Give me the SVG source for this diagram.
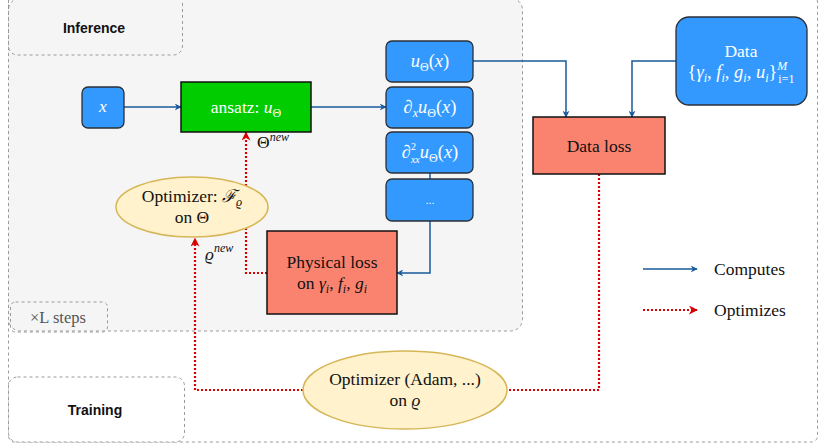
<svg xmlns="http://www.w3.org/2000/svg" width="820" height="446" viewBox="0 0 820 446">
<style>
.cont{fill:none;stroke:#9a9a9a;stroke-width:1;stroke-dasharray:3 3}
.blue{fill:#3399ff;stroke:#2b2f36;stroke-width:1.3}
.salmon{fill:#fa8370;stroke:#111;stroke-width:1.5}
.green{fill:#00cc00;stroke:#111;stroke-width:1.5}
.ell{fill:#fff2cc;stroke:#d6b656;stroke-width:1.5}
.m{font-family:"Liberation Serif","DejaVu Serif",serif;font-size:17.5px;text-anchor:middle}
.w{fill:#ffffff}
.k{fill:#111111}
.i{font-style:italic}
.s{font-size:12px}
.t{font-size:10px}
.b{font-family:"Liberation Sans",Arial,sans-serif;font-weight:bold;font-size:14px;text-anchor:middle;fill:#111}
.cl{fill:none;stroke:#195a9c;stroke-width:1.5}
.ol{fill:none;stroke:#d90000;stroke-width:2.2;stroke-dasharray:2 2}
</style>
<defs>
<marker id="ab" viewBox="0 0 10 10" refX="9" refY="5" markerWidth="7" markerHeight="7" orient="auto" markerUnits="userSpaceOnUse">
<path d="M0,0 L10,5 L0,10 L3,5 Z" fill="#195a9c"/>
</marker>
<marker id="ar" viewBox="0 0 10 10" refX="9" refY="5" markerWidth="9" markerHeight="9" orient="auto" markerUnits="userSpaceOnUse">
<path d="M0,0 L10,5 L0,10 L3,5 Z" fill="#d90000"/>
</marker>
</defs>

<g id="containers">
<rect x="8.5" y="-4" width="809" height="446" rx="6" class="cont"/>
<rect x="8.5" y="-2" width="514" height="333" rx="12" fill="#f5f5f5" stroke="#9a9a9a" stroke-width="1" stroke-dasharray="3 3"/>
<rect x="8.5" y="-10" width="174" height="65" rx="9" class="cont"/>
<text x="94" y="33" class="b">Inference</text>
<rect x="10.5" y="302" width="97" height="30" rx="5" class="cont"/>
<text x="58" y="323" class="m" style="font-size:16.5px;fill:#555">×L steps</text>
<rect x="8.5" y="377" width="176" height="65" rx="9" fill="#ffffff" stroke="#9a9a9a" stroke-width="1" stroke-dasharray="3 3"/>
<text x="95" y="415" class="b">Training</text>
</g>

<g id="connectors">
<path d="M124,107 H181" class="cl" marker-end="url(#ab)"/>
<path d="M311,107 H386" class="cl" marker-end="url(#ab)"/>
<path d="M473,61 H566 V117" class="cl" marker-end="url(#ab)"/>
<path d="M676,61 H632 V117" class="cl" marker-end="url(#ab)"/>
<path d="M430,173 V179" class="cl"/>
<path d="M430,221 V273 H397" class="cl" marker-end="url(#ab)"/>
<path d="M267,273 H246 V132.5" class="ol" marker-end="url(#ar)"/>
<path d="M303,390 H195 V238.5" class="ol" marker-end="url(#ar)"/>
<path d="M599,174 V390 H507" class="ol"/>
<text x="257" y="148" class="m k" style="text-anchor:start">Θ<tspan class="i s" dy="-7">new</tspan></text>
<text x="205" y="260" class="m k i" style="text-anchor:start">ϱ<tspan class="s" dy="-8">new</tspan></text>
</g>

<g id="node-x">
<rect x="82" y="87" width="42" height="41" rx="6" class="blue"/>
<text x="103" y="112" class="m w i">x</text>
</g>

<g id="node-ansatz">
<rect x="181" y="82" width="130" height="50" class="green"/>
<text x="246" y="113" class="m w">ansatz: <tspan class="i">u</tspan><tspan class="s" dy="4">Θ</tspan></text>
</g>

<g id="node-u">
<rect x="386" y="41" width="87" height="41" rx="6" class="blue"/>
<text x="430" y="67" class="m w" style="font-size:18.5px"><tspan class="i">u</tspan><tspan class="s" dy="4">Θ</tspan><tspan dy="-4">(</tspan><tspan class="i">x</tspan>)</text>
</g>

<g id="node-dx">
<rect x="386" y="87" width="87" height="41" rx="6" class="blue"/>
<text x="430" y="113" class="m w" style="font-size:18.5px">∂<tspan class="i s" dy="4">x</tspan><tspan class="i" dy="-4">u</tspan><tspan class="s" dy="4">Θ</tspan><tspan dy="-4">(</tspan><tspan class="i">x</tspan>)</text>
</g>

<g id="node-dxx">
<rect x="386" y="132" width="87" height="41" rx="6" class="blue"/>
<text x="430" y="158" class="m w" style="font-size:18.5px">∂<tspan class="t" dy="-8">2</tspan><tspan class="i t" dx="-5" dy="13">xx</tspan><tspan class="i" dy="-5">u</tspan><tspan class="s" dy="4">Θ</tspan><tspan dy="-4">(</tspan><tspan class="i">x</tspan>)</text>
</g>

<g id="node-dots">
<rect x="386" y="179" width="87" height="42" rx="6" class="blue"/>
<text x="430" y="204" style="font-family:'Liberation Sans',Arial,sans-serif;font-size:11px;fill:#fff;text-anchor:middle">...</text>
</g>

<g id="node-physical-loss">
<rect x="267" y="231" width="130" height="83" class="salmon"/>
<text x="332" y="268" class="m k">Physical loss</text>
<text x="332" y="289" class="m k">on <tspan class="i">γ</tspan><tspan class="i s" dy="4">i</tspan><tspan dy="-4">, </tspan><tspan class="i">f</tspan><tspan class="i s" dy="4">i</tspan><tspan dy="-4">, </tspan><tspan class="i">g</tspan><tspan class="i s" dy="4">i</tspan></text>
</g>

<g id="node-data-loss">
<rect x="533" y="117" width="132" height="57" class="salmon"/>
<text x="599" y="152" class="m k">Data loss</text>
</g>

<g id="node-data">
<rect x="676" y="17" width="131" height="88" rx="13" class="blue"/>
<text x="741" y="57" class="m w">Data</text>
<text x="741" y="78" class="m w" style="font-size:18.5px">{<tspan class="i">γ</tspan><tspan class="i s" dy="4">i</tspan><tspan dy="-4">, </tspan><tspan class="i">f</tspan><tspan class="i s" dy="4">i</tspan><tspan dy="-4">, </tspan><tspan class="i">g</tspan><tspan class="i s" dy="4">i</tspan><tspan dy="-4">, </tspan><tspan class="i">u</tspan><tspan class="i s" dy="4">i</tspan><tspan dy="-4">}</tspan><tspan class="i s" dy="-8">M</tspan><tspan class="s" dx="-9" dy="13">i=1</tspan></text>
</g>

<g id="node-optimizer-f">
<ellipse cx="192" cy="207" rx="76" ry="30" class="ell"/>
<text x="192" y="202" class="m k">Optimizer: <tspan class="i">ℱ</tspan><tspan class="i s" dy="4">ϱ</tspan></text>
<text x="192" y="223" class="m k">on Θ</text>
</g>

<g id="node-optimizer-adam">
<ellipse cx="405" cy="390" rx="102" ry="39" class="ell"/>
<text x="405" y="385" class="m k">Optimizer (Adam, ...)</text>
<text x="405" y="406" class="m k">on <tspan class="i">ϱ</tspan></text>
</g>

<g id="legend">
<path d="M643,269 H697" class="cl" marker-end="url(#ab)"/>
<text x="714" y="275" class="m k" style="text-anchor:start">Computes</text>
<path d="M643,310 H697" class="ol" marker-end="url(#ar)"/>
<text x="714" y="316" class="m k" style="text-anchor:start">Optimizes</text>
</g>
</svg>
